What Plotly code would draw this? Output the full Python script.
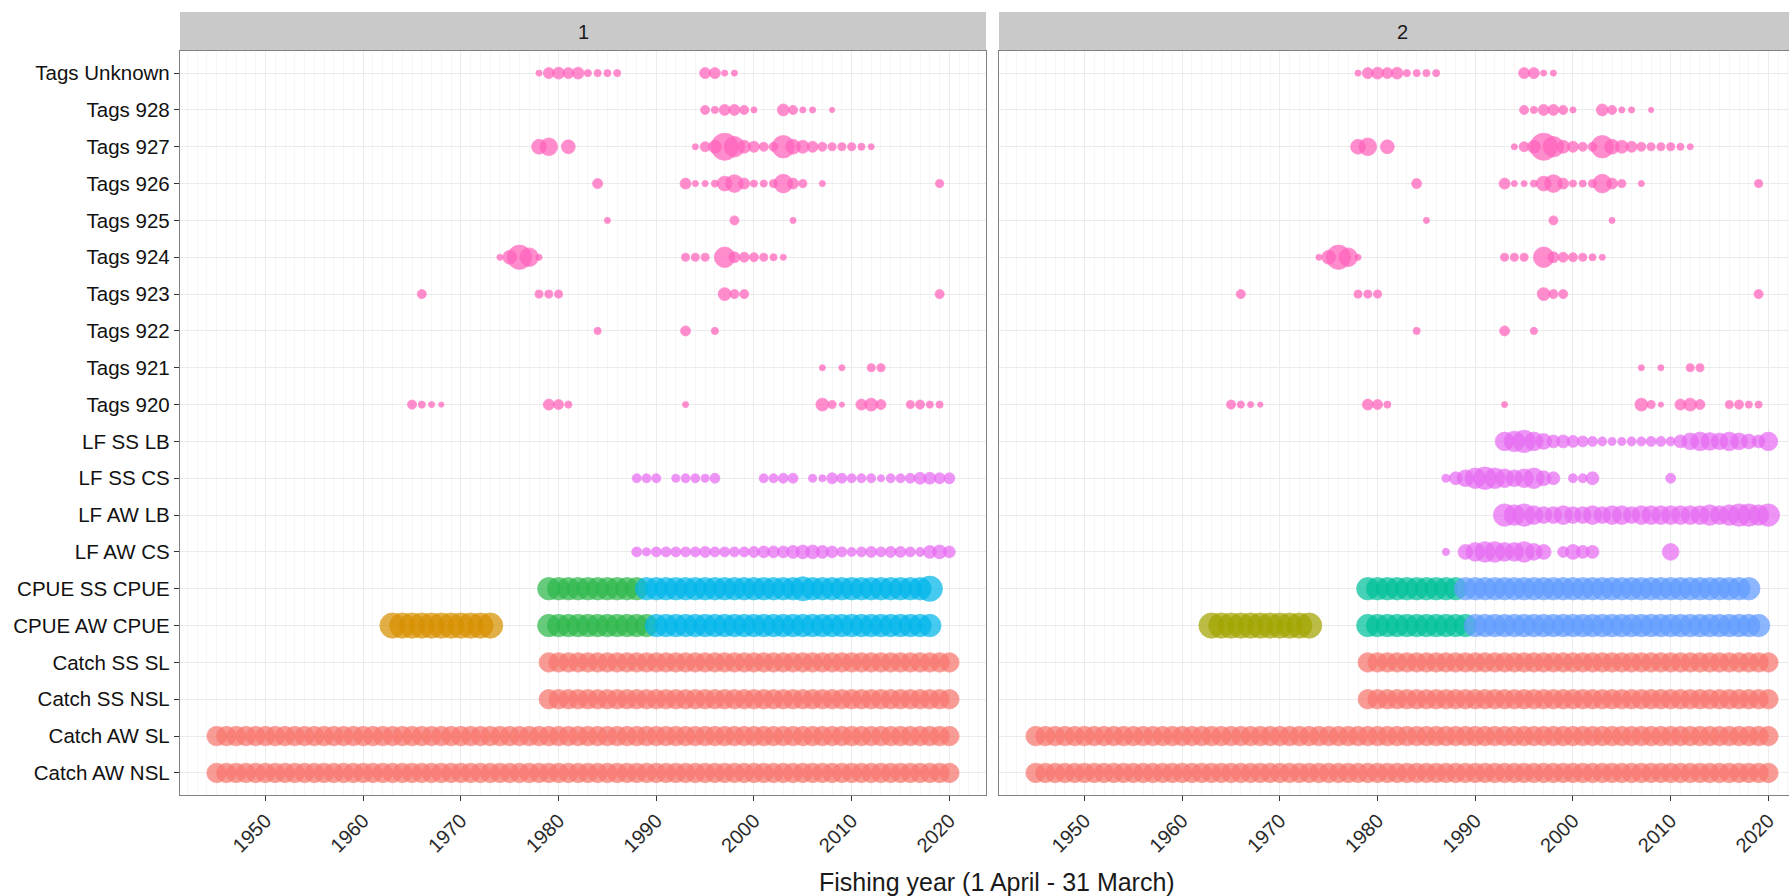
import plotly.graph_objects as go
import math

# ---------------- DATA ----------------
row_labels = ["Catch AW NSL", "Catch AW SL", "Catch SS NSL", "Catch SS SL",
              "CPUE AW CPUE", "CPUE SS CPUE", "LF AW CS", "LF AW LB",
              "LF SS CS", "LF SS LB", "Tags 920", "Tags 921", "Tags 922",
              "Tags 923", "Tags 924", "Tags 925", "Tags 926", "Tags 927",
              "Tags 928", "Tags Unknown"]
year_ticks = [1950, 1960, 1970, 1980, 1990, 2000, 2010, 2020]
panel_labels = ["1", "2"]

# Catch (same in both panels)
catch_aw_years = list(range(1945, 2021))
catch_aw_n = [90] * len(catch_aw_years)
catch_ss_years = list(range(1979, 2021))
catch_ss_n = [90] * len(catch_ss_years)

# CPUE
cpue_early_years = list(range(1963, 1974))
cpue_early_n = [156] * len(cpue_early_years)
cpue_aw_a_years = list(range(1979, 1990))
cpue_aw_a_n = [121] * len(cpue_aw_a_years)
cpue_ss_a_years = list(range(1979, 1989))
cpue_ss_a_n = [121] * len(cpue_ss_a_years)
cpue_aw_b_years_p1 = list(range(1990, 2019))
cpue_aw_b_n_p1 = [121] * len(cpue_aw_b_years_p1)
cpue_ss_b_years_p1 = list(range(1989, 2019))
cpue_ss_b_n_p1 = [121] * 16 + [140] + [121] * 12 + [156]
cpue_aw_b_years_p2 = list(range(1990, 2020))
cpue_aw_b_n_p2 = [121] * len(cpue_aw_b_years_p2)
cpue_ss_b_years_p2 = list(range(1989, 2019))
cpue_ss_b_n_p2 = [121] * len(cpue_ss_b_years_p2)

# Length frequency, panel 1
lf1_ss_cs_years = [1988, 1989, 1990, 1992, 1993, 1994, 1995, 1996, 2001, 2002, 2003, 2004,
                   2006, 2007, 2008, 2009, 2010, 2011, 2012, 2013, 2014, 2015, 2016, 2017,
                   2018, 2019, 2020]
lf1_ss_cs_n = [16, 16, 16, 12, 16, 16, 12, 20, 16, 16, 20, 20, 12, 9, 25, 20, 16, 16, 16, 9,
               16, 16, 20, 30, 30, 25, 25]
lf1_aw_cs_years = list(range(1988, 2021))
lf1_aw_cs_n = [20, 12, 20, 20, 20, 20, 20, 25, 20, 20, 20, 20, 25, 30, 30, 30, 36, 42, 42,
               36, 30, 20, 16, 20, 25, 20, 25, 25, 20, 16, 36, 42, 30]

# Length frequency, panel 2
lf2_ss_lb_years = list(range(1993, 2021))
lf2_ss_lb_n = [81, 100, 121, 81, 56, 36, 36, 30, 25, 20, 16, 12, 12, 16, 16, 20, 20, 16, 36,
               64, 81, 72, 64, 81, 64, 49, 36, 81]
lf2_ss_cs_years = [1987, 1988, 1989, 1990, 1991, 1992, 1993, 1994, 1995, 1996, 1997, 1998,
                   2000, 2001, 2002, 2010]
lf2_ss_cs_n = [12, 36, 64, 100, 121, 100, 81, 64, 81, 100, 49, 36, 16, 16, 36, 20]
lf2_aw_lb_years = list(range(1993, 2021))
lf2_aw_lb_n = [121, 100, 121, 81, 64, 64, 81, 64, 64, 81, 64, 81, 81, 64, 81, 81, 81, 81, 81,
               81, 81, 100, 81, 100, 121, 121, 100, 121]
lf2_aw_cs_years = [1987, 1989, 1990, 1991, 1992, 1993, 1994, 1995, 1996, 1997, 1999, 2000,
                   2001, 2002, 2010]
lf2_aw_cs_n = [9, 49, 81, 100, 100, 81, 81, 100, 64, 49, 25, 49, 36, 36, 64]

# Tags (same in both panels)
tags_unknown_years = [1978, 1979, 1980, 1981, 1982, 1983, 1984, 1985, 1986, 1995, 1996, 1997, 1998]
tags_unknown_n = [6, 25, 30, 25, 30, 9, 9, 9, 9, 25, 25, 6, 6]
tags_928_years = [1995, 1996, 1997, 1998, 1999, 2000, 2003, 2004, 2005, 2006, 2008]
tags_928_n = [16, 9, 25, 25, 16, 6, 30, 16, 6, 6, 4]
tags_927_years = [1978, 1979, 1981, 1994, 1995, 1996, 1997, 1998, 1999, 2000, 2001, 2002,
                  2003, 2004, 2005, 2006, 2007, 2008, 2009, 2010, 2011, 2012]
tags_927_n = [49, 72, 42, 6, 20, 36, 182, 100, 36, 25, 16, 16, 121, 49, 36, 25, 16, 12, 12,
              12, 9, 6]
tags_926_years = [1984, 1993, 1994, 1995, 1996, 1997, 1998, 1999, 2000, 2001, 2002, 2003,
                  2004, 2005, 2007, 2019]
tags_926_n = [20, 25, 6, 6, 9, 49, 72, 25, 9, 9, 12, 81, 25, 12, 6, 12]
tags_925_years = [1985, 1998, 2004]
tags_925_n = [6, 16, 6]
tags_924_years = [1974, 1975, 1976, 1977, 1978, 1993, 1994, 1995, 1997, 1998, 1999, 2000,
                  2001, 2002, 2003]
tags_924_n = [6, 42, 144, 81, 6, 12, 12, 12, 100, 25, 20, 16, 12, 9, 6]
tags_923_years = [1966, 1978, 1979, 1980, 1997, 1998, 1999, 2019]
tags_923_n = [16, 12, 12, 12, 36, 16, 16, 16]
tags_922_years = [1984, 1993, 1996]
tags_922_n = [9, 20, 9]
tags_921_years = [2007, 2009, 2012, 2013]
tags_921_n = [6, 6, 12, 12]
tags_920_years = [1965, 1966, 1967, 1968, 1979, 1980, 1981, 1993, 2007, 2008, 2009, 2011,
                  2012, 2013, 2016, 2017, 2018, 2019]
tags_920_n = [16, 9, 6, 4, 25, 20, 9, 6, 36, 12, 4, 25, 36, 20, 12, 16, 9, 9]

# ---------------- STYLE ----------------
C_CATCH = "#F8766D"
C_LF = "#E76BF3"
C_TAGS = "#FF62BC"
P1_CPUE = ["#D89000", "#2DB84B", "#00B6EB"]
P2_CPUE = ["#A3A500", "#00C19A", "#619CFF"]

W, H = 1789, 896
FONT = "Liberation Sans, Arial, sans-serif"


def row_y(label):
    return row_labels.index(label) + 1


def sizes(ns):
    return [1.5 + 1.9 * math.sqrt(v) for v in ns]


fig = go.Figure()


def add(years, ns, label, color, panel):
    ax = "x" if panel == 1 else "x2"
    ay = "y" if panel == 1 else "y2"
    fig.add_trace(go.Scatter(
        x=years, y=[row_y(label)] * len(years), mode="markers",
        xaxis=ax, yaxis=ay, showlegend=False, hoverinfo="skip",
        marker=dict(size=sizes(ns), color=color, opacity=0.72,
                    line=dict(color=color, width=0.8))))


tags = [("Tags Unknown", tags_unknown_years, tags_unknown_n),
        ("Tags 928", tags_928_years, tags_928_n),
        ("Tags 927", tags_927_years, tags_927_n),
        ("Tags 926", tags_926_years, tags_926_n),
        ("Tags 925", tags_925_years, tags_925_n),
        ("Tags 924", tags_924_years, tags_924_n),
        ("Tags 923", tags_923_years, tags_923_n),
        ("Tags 922", tags_922_years, tags_922_n),
        ("Tags 921", tags_921_years, tags_921_n),
        ("Tags 920", tags_920_years, tags_920_n)]

for p in (1, 2):
    add(catch_aw_years, catch_aw_n, "Catch AW NSL", C_CATCH, p)
    add(catch_aw_years, catch_aw_n, "Catch AW SL", C_CATCH, p)
    add(catch_ss_years, catch_ss_n, "Catch SS NSL", C_CATCH, p)
    add(catch_ss_years, catch_ss_n, "Catch SS SL", C_CATCH, p)
    cols = P1_CPUE if p == 1 else P2_CPUE
    add(cpue_early_years, cpue_early_n, "CPUE AW CPUE", cols[0], p)
    add(cpue_aw_a_years, cpue_aw_a_n, "CPUE AW CPUE", cols[1], p)
    add(cpue_ss_a_years, cpue_ss_a_n, "CPUE SS CPUE", cols[1], p)
    if p == 1:
        add(cpue_aw_b_years_p1, cpue_aw_b_n_p1, "CPUE AW CPUE", cols[2], p)
        add(cpue_ss_b_years_p1, cpue_ss_b_n_p1, "CPUE SS CPUE", cols[2], p)
        add(lf1_aw_cs_years, lf1_aw_cs_n, "LF AW CS", C_LF, p)
        add(lf1_ss_cs_years, lf1_ss_cs_n, "LF SS CS", C_LF, p)
    else:
        add(cpue_aw_b_years_p2, cpue_aw_b_n_p2, "CPUE AW CPUE", cols[2], p)
        add(cpue_ss_b_years_p2, cpue_ss_b_n_p2, "CPUE SS CPUE", cols[2], p)
        add(lf2_aw_cs_years, lf2_aw_cs_n, "LF AW CS", C_LF, p)
        add(lf2_aw_lb_years, lf2_aw_lb_n, "LF AW LB", C_LF, p)
        add(lf2_ss_cs_years, lf2_ss_cs_n, "LF SS CS", C_LF, p)
        add(lf2_ss_lb_years, lf2_ss_lb_n, "LF SS LB", C_LF, p)
    for lab, yrs, ns in tags:
        add(yrs, ns, lab, C_TAGS, p)

# geometry (pixels)
p1_left, p1_right = 180, 986
p2_left = 999
top, bottom = 51, 795
strip_top = 12
px_per_year = (p1_right - p1_left) / 82.5
x_lo = 1941.25
x2_hi = x_lo + (W - p2_left) / px_per_year

common_x = dict(
    tickmode="array", tickvals=year_ticks, ticktext=[str(v) for v in year_ticks],
    tickangle=-45, tickfont=dict(family=FONT, size=20, color="#2A2A2A"),
    ticks="outside", ticklen=5, tickwidth=1.3, tickcolor="#333333",
    showline=True, linecolor="#808080", linewidth=1.3,
    showgrid=True, gridcolor="#EBEBEB", gridwidth=1.1, zeroline=False,
    minor=dict(tickmode="linear", tick0=1950, dtick=1, showgrid=True,
               gridcolor="#F6F6F6", gridwidth=0.6, ticks=""),
)
ydom = [1 - bottom / H, 1 - top / H]

fig.update_layout(
    width=W, height=H, margin=dict(l=0, r=0, t=0, b=0),
    paper_bgcolor="white", plot_bgcolor="white",
    xaxis=dict(domain=[p1_left / W, p1_right / W], range=[x_lo, 2023.75],
               mirror=True, anchor="y", **common_x),
    xaxis2=dict(domain=[p2_left / W, 1.0], range=[x_lo, x2_hi],
                mirror=True, anchor="y2", **common_x),
    yaxis=dict(domain=ydom, range=[0.4, 20.6], tickmode="array",
               tickvals=list(range(1, 21)), ticktext=row_labels,
               tickfont=dict(family=FONT, size=20.5, color="#111111"),
               ticks="outside", ticklen=5, tickwidth=1.3, tickcolor="#333333",
               showline=True, linecolor="#808080", linewidth=1.3, mirror=True,
               showgrid=True, gridcolor="#EBEBEB", gridwidth=1.1, zeroline=False,
               anchor="x"),
    yaxis2=dict(domain=ydom, range=[0.4, 20.6], tickmode="array",
                tickvals=list(range(1, 21)), showticklabels=False, ticks="",
                showline=True, linecolor="#808080", linewidth=1.3, mirror=False,
                showgrid=True, gridcolor="#EBEBEB", gridwidth=1.1, zeroline=False,
                anchor="x2"),
)

# facet strips
for (x0, x1, lab, cx) in [(p1_left, p1_right, panel_labels[0], (p1_left + p1_right) / 2),
                          (p2_left, W + 20, panel_labels[1], p2_left + 82.5 * px_per_year / 2)]:
    fig.add_shape(type="rect", xref="paper", yref="paper",
                  x0=x0 / W, x1=x1 / W, y0=1 - top / H, y1=1 - strip_top / H,
                  fillcolor="#C9C9C9", line=dict(width=0), layer="below")
    fig.add_annotation(text=lab, xref="paper", yref="paper", x=cx / W,
                       y=1 - (top + strip_top) / 2 / H, showarrow=False,
                       font=dict(family=FONT, size=20, color="#1A1A1A"),
                       xanchor="center", yanchor="middle")

fig.add_annotation(text="Fishing year (1 April - 31 March)", xref="paper", yref="paper",
                   x=997 / W, y=1 - 882 / H, showarrow=False, xanchor="center",
                   yanchor="middle", font=dict(family=FONT, size=25, color="#1A1A1A"))

fig.write_html("out.html")
